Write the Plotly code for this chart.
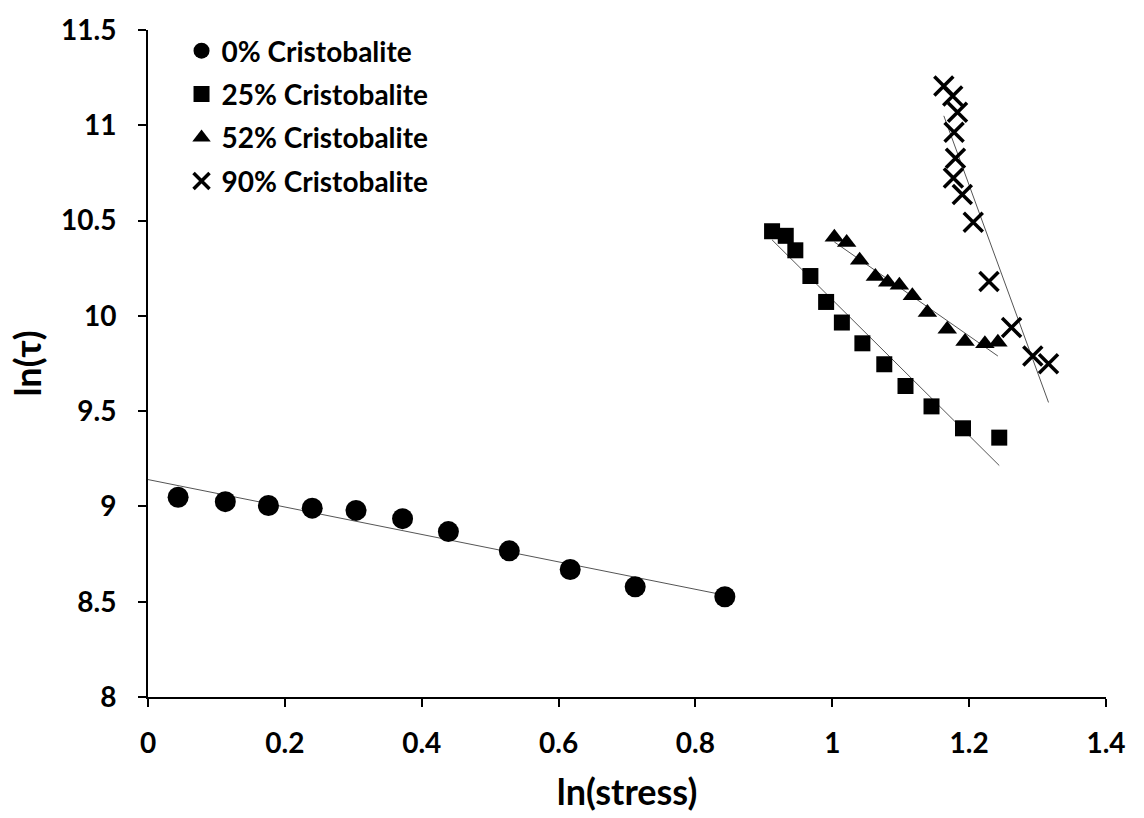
import numpy as np
import plotly.graph_objects as go

# ---- data ----
x_c0 = [0.044, 0.113, 0.176, 0.240, 0.304, 0.372, 0.439, 0.528, 0.617, 0.712, 0.843]
y_c0 = [9.048, 9.025, 9.005, 8.991, 8.979, 8.936, 8.868, 8.767, 8.669, 8.578, 8.526]

x_c25 = [0.912, 0.932, 0.946, 0.968, 0.991, 1.014, 1.044, 1.076, 1.107, 1.145, 1.191, 1.244]
y_c25 = [10.444, 10.420, 10.344, 10.209, 10.073, 9.965, 9.856, 9.746, 9.632, 9.525, 9.410, 9.361]

x_c52 = [1.003, 1.021, 1.040, 1.063, 1.081, 1.098, 1.117, 1.139, 1.168, 1.194, 1.223, 1.242]
y_c52 = [10.413, 10.385, 10.292, 10.206, 10.176, 10.160, 10.105, 10.017, 9.930, 9.866, 9.853, 9.862]

x_c90 = [1.163, 1.176, 1.183, 1.178, 1.180, 1.177, 1.190, 1.206, 1.229, 1.262, 1.293, 1.316]
y_c90 = [11.206, 11.154, 11.068, 10.964, 10.827, 10.723, 10.637, 10.491, 10.180, 9.939, 9.789, 9.749]

names = ["0% Cristobalite", "25% Cristobalite", "52% Cristobalite", "90% Cristobalite"]
x_ticks = [0, 0.2, 0.4, 0.6, 0.8, 1, 1.2, 1.4]
y_ticks = [8, 8.5, 9, 9.5, 10, 10.5, 11, 11.5]

FONT = "Lato"

fig = go.Figure()

series = [
    (x_c0, y_c0, dict(symbol="circle", size=21, color="black"), 0.0),
    (x_c25, y_c25, dict(symbol="square", size=16, color="black"), None),
    (x_c52, y_c52, dict(symbol="triangle-up", size=17, color="black"), None),
    (x_c90, y_c90, dict(symbol="x-thin", size=19, color="black",
                        line=dict(width=3.5, color="black")), None),
]

# trendlines (least-squares fits of each series)
for xs, ys, mk, x_start in series:
    xa, ya = np.array(xs), np.array(ys)
    k, b = np.polyfit(xa, ya, 1)
    x0 = xa.min() if x_start is None else x_start
    x1 = xa.max()
    fig.add_trace(go.Scatter(x=[x0, x1], y=[k * x0 + b, k * x1 + b], mode="lines",
                             line=dict(color="#555555", width=1), showlegend=False,
                             hoverinfo="skip"))

for i, ((xs, ys, mk, _), nm) in enumerate(zip(series, names)):
    fig.add_trace(go.Scatter(x=xs, y=ys, mode="markers", name=nm, marker=mk,
                             legendgroup=f"g{i}"))

axis_common = dict(showline=True, linecolor="black", linewidth=2, ticks="outside",
                   ticklen=8, tickwidth=2, tickcolor="black", showgrid=False,
                   zeroline=False, tickfont=dict(family=FONT, size=28, color="black",
                                                 weight="bold"))

fig.update_xaxes(range=[0, 1.4], tickvals=x_ticks, ticktext=[f"{v:g}" for v in x_ticks],
                 ticklabelstandoff=12,
                 title=dict(text="ln(stress)", font=dict(family=FONT, size=36, color="black",
                                                         weight="bold"), standoff=22),
                 **axis_common)
fig.update_yaxes(range=[8, 11.5], tickvals=y_ticks, ticktext=[f"{v:g}" for v in y_ticks],
                 ticklabelstandoff=16,
                 title=dict(text="ln(τ)", font=dict(family=FONT, size=36, color="black",
                                                    weight="bold"), standoff=8),
                 **axis_common)

fig.update_layout(
    width=1144, height=818,
    margin=dict(l=148, r=38, t=23, b=118),
    plot_bgcolor="white", paper_bgcolor="white",
    legend=dict(x=0.035, y=1.006, xanchor="left", yanchor="top",
                font=dict(family=FONT, size=28, color="black", weight="bold"),
                bgcolor="rgba(0,0,0,0)", itemwidth=30, tracegroupgap=4),
)

fig.write_html("out.html")
